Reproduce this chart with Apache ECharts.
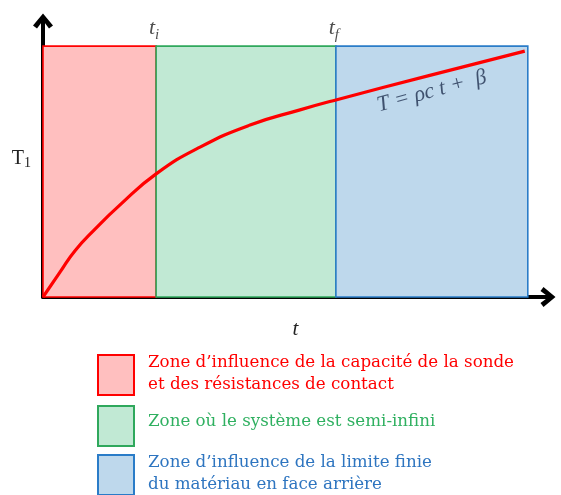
<!DOCTYPE html>
<html><head><meta charset="utf-8">
<script src="https://cdn.jsdelivr.net/npm/echarts@6/dist/echarts.min.js"></script>
<style>html,body{margin:0;padding:0;background:#fff}#c{width:561px;height:495px}</style>
</head><body><div id="c"></div>
<script>
// Curve readings (arbitrary units: t 0..100, T 0..100)
const curveT = [0, 3.4, 6.3, 10.3, 15.2, 22.4, 31.1, 41.0, 50.9, 58.0, 76.6, 95.4];
const curveY = [0, 9.1, 16.7, 24.6, 33.3, 44.6, 54.3, 62.3, 67.8, 71.4, 80.3, 89.1];
// Zone boundaries
const zoneStart = [0, 22.4, 58.0];
const zoneEnd = [22.4, 58.0, 96.0];
const zoneTop = 90.9;
const zoneNames = ['Zone d\u2019influence de la capacité de la sonde\net des résistances de contact',
                   'Zone où le système est semi-infini',
                   'Zone d\u2019influence de la limite finie\ndu matériau en face arrière'];
const zoneFill = ['#ffbfbf', '#c1e9d4', '#bed8ec'];
const zoneBorder = ['#ff0000', '#2fa85c', '#2a7cc8'];
const zoneText = ['#ff0000', '#2fb060', '#2e75c0'];
const tickNames = ['i', 'f'];
const tickPos = [22.4, 58.0];
const eqPos = [77, 74.5];

const serif = '"Liberation Serif", "DejaVu Serif", serif';
const legendFont = '"DejaVu Serif", serif';
const chart = echarts.init(document.getElementById('c'), null, {renderer: 'canvas'});
const chev = 'path://M0,12 L10,0 L20,12 L16,15 L10,7 L4,15 Z';

const series = [];
zoneStart.forEach((s, i) => {
  series.push({
    type: 'line', data: [], silent: true,
    markArea: {
      silent: true,
      itemStyle: {color: zoneFill[i], borderColor: zoneBorder[i], borderWidth: 1.6, opacity: 1},
      data: [[{coord: [s, 0]}, {coord: [zoneEnd[i], zoneTop]}]]
    }
  });
});
series.push({
  type: 'line', smooth: 0.5, symbol: 'none',
  data: curveT.map((t, i) => [t, curveY[i]]),
  lineStyle: {color: '#ff0000', width: 3.2}, z: 5
});
series.push({
  type: 'scatter', symbolSize: 0, z: 6,
  data: tickPos.map((p, i) => ({value: [p, zoneTop], name: tickNames[i]})),
  label: {show: true, position: 'top', distance: 4, offset: [-2, 0],
    formatter: p => '{t|t}{s|' + p.name + '}',
    rich: {t: {fontFamily: serif, fontStyle: 'italic', fontSize: 22, color: '#222'},
           s: {fontFamily: serif, fontStyle: 'italic', fontSize: 15, color: '#222', verticalAlign: 'bottom', padding: [12, 0, 0, 0]}}}
});
series.push({
  type: 'scatter', symbolSize: 0, z: 6,
  data: [{value: eqPos}],
  label: {show: true, position: 'inside', rotate: 15,
    formatter: 'T = ρc t +  β',
    fontFamily: serif, fontStyle: 'italic', fontSize: 22, color: '#1f2f4f'}
});

const graphics = [];
const boxY = [354, 405, 454];
const textY = [[363, 385], [422], [463, 485]];
zoneNames.forEach((n, i) => {
  graphics.push({type: 'rect', left: 97, top: boxY[i], shape: {width: 36, height: 40},
    style: {fill: zoneFill[i], stroke: zoneBorder[i], lineWidth: 2}});
  n.split('\n').forEach((line, j) => {
    graphics.push({type: 'text', x: 148, y: textY[i][j],
      style: {text: line, fill: zoneText[i], font: '16.7px ' + legendFont, textVerticalAlign: 'middle'}});
  });
});

chart.setOption({
  animation: false,
  grid: {left: 43, right: 13, top: 21, bottom: 198, containLabel: false},
  xAxis: {type: 'value', min: 0, max: 100,
    name: 't', nameLocation: 'middle', nameGap: 22,
    nameTextStyle: {fontFamily: serif, fontStyle: 'italic', fontSize: 21, color: '#222'},
    axisLine: {lineStyle: {color: '#000', width: 4}, symbol: ['none', chev], symbolSize: [20, 16]},
    axisTick: {show: false}, axisLabel: {show: false}, splitLine: {show: false}},
  yAxis: {type: 'value', min: 0, max: 100,
    name: 'T{s|1}', nameLocation: 'middle', nameGap: 12, nameRotate: 0,
    nameTextStyle: {fontFamily: serif, fontSize: 20, color: '#222', align: 'right',
      rich: {s: {fontFamily: serif, fontSize: 14, color: '#222', verticalAlign: 'bottom', padding: [9, 0, 0, 0]}}},
    axisLine: {show: true, lineStyle: {color: '#000', width: 4}, symbol: ['none', chev], symbolSize: [20, 16]},
    axisTick: {show: false}, axisLabel: {show: false}, splitLine: {show: false}},
  series: series,
  graphic: graphics
});
</script></body></html>
